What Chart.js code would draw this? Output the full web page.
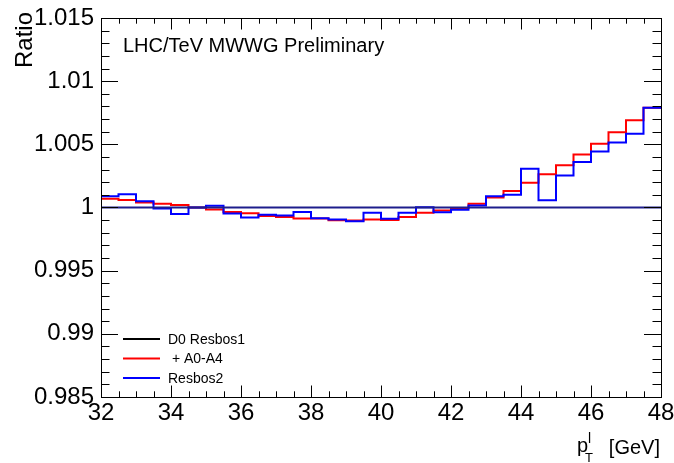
<!DOCTYPE html>
<html>
<head>
<meta charset="utf-8">
<script src="https://cdn.jsdelivr.net/npm/chart.js@4/dist/chart.umd.min.js"></script>
<style>
  html, body { margin: 0; padding: 0; background: #fff; }
  #wrap { width: 674px; height: 463px; }
</style>
</head>
<body>
<div id="wrap"><canvas id="ratioChart"></canvas></div>
<script>
// bin low edges (0.5 GeV bins), last entry closes the final bin
const binEdges = [32, 32.5, 33, 33.5, 34, 34.5, 35, 35.5, 36, 36.5, 37, 37.5, 38, 38.5, 39, 39.5,
                  40, 40.5, 41, 41.5, 42, 42.5, 43, 43.5, 44, 44.5, 45, 45.5, 46, 46.5, 47, 47.5, 48];

const refRatio = [1, 1];   // D0 Resbos1 / itself, at 32 and 48

const a0a4Ratio = [1.0007, 1.0006, 1.0004, 1.0003, 1.0002, 1.0000, 0.99984, 0.99965,
                   0.99955, 0.99932, 0.99925, 0.99912, 0.99912, 0.99900, 0.99897, 0.99905,
                   0.99902, 0.99925, 0.99958, 0.99976, 0.99996, 1.0003, 1.0008, 1.0013,
                   1.00195, 1.00264, 1.00335, 1.0042, 1.00505, 1.00596, 1.0069, 1.0079];

const resbos2Ratio = [1.0009, 1.00105, 1.0005, 0.99992, 0.99948, 1.0000, 1.00013, 0.99952,
                      0.9992, 0.99942, 0.99937, 0.99965, 0.99915, 0.99905, 0.99892, 0.99958,
                      0.9991, 0.99958, 1.00002, 0.99963, 0.99982, 1.00016, 1.0009, 1.001,
                      1.00306, 1.00058, 1.00253, 1.00361, 1.00443, 1.00515, 1.00583, 1.0079];

const seriesLabels = ['D0 Resbos1', ' + A0-A4', 'Resbos2'];
const legendColors = ['#000000', '#ff0000', '#0000ff'];

const toSteps = (vals) => {
    const pts = vals.map((v, i) => ({ x: binEdges[i], y: v }));
    pts.push({ x: binEdges[binEdges.length - 1], y: vals[vals.length - 1] });
    return pts;
};

const FONT = '"Liberation Sans", Arial, sans-serif';

const isMajorY = (v) => Math.round(v * 1000) % 5 === 0;
const isMajorX = (v) => Math.abs(v / 2 - Math.round(v / 2)) < 1e-6;

// ROOT style frame, inward ticks, legend, axis titles
const rootStyle = {
    id: 'rootStyle',
    afterDraw(chart) {
        const ctx = chart.ctx;
        const { left, right, top, bottom } = chart.chartArea;
        const xs = chart.scales.x, ys = chart.scales.y;
        ctx.save();
        ctx.strokeStyle = '#000';
        ctx.lineWidth = 1;
        ctx.strokeRect(Math.round(left) + 0.5, Math.round(top) + 0.5,
                       Math.round(right - left), Math.round(bottom - top));
        ctx.beginPath();
        ys.ticks.forEach((t) => {
            const y = Math.round(ys.getPixelForValue(t.value)) + 0.5;
            const len = isMajorY(t.value) ? 17 : 8.5;
            ctx.moveTo(left, y); ctx.lineTo(left + len, y);
            ctx.moveTo(right, y); ctx.lineTo(right - len, y);
        });
        xs.ticks.forEach((t) => {
            const x = Math.round(xs.getPixelForValue(t.value)) + 0.5;
            const len = isMajorX(t.value) ? 11.5 : 5.7;
            ctx.moveTo(x, bottom); ctx.lineTo(x, bottom - len);
            ctx.moveTo(x, top); ctx.lineTo(x, top + len);
        });
        ctx.stroke();

        // legend
        ctx.font = '14px ' + FONT;
        ctx.textBaseline = 'middle';
        ctx.textAlign = 'left';
        const legY = [339, 358.5, 378];
        seriesLabels.forEach((lab, i) => {
            ctx.strokeStyle = legendColors[i];
            ctx.lineWidth = 2;
            ctx.beginPath();
            ctx.moveTo(123, legY[i]); ctx.lineTo(160, legY[i]);
            ctx.stroke();
            ctx.fillStyle = '#000';
            ctx.fillText(lab, 168, legY[i] + 1);
        });

        // text label
        ctx.font = '20px ' + FONT;
        ctx.textBaseline = 'alphabetic';
        ctx.fillText('LHC/TeV MWWG Preliminary', 123, 52);

        // y title
        ctx.save();
        ctx.translate(32, 12);
        ctx.rotate(-Math.PI / 2);
        ctx.font = '24px ' + FONT;
        ctx.textAlign = 'right';
        ctx.fillText('Ratio', 0, 0);
        ctx.restore();

        // x title p_T^l [GeV]
        ctx.font = '20px ' + FONT;
        ctx.textAlign = 'right';
        ctx.fillText('[GeV]', 660, 454);
        ctx.textAlign = 'left';
        ctx.fillText('p', 577, 452);
        ctx.font = '14px ' + FONT;
        ctx.fillText('l', 588, 443);
        ctx.font = '13px ' + FONT;
        ctx.fillText('T', 585, 462);
        ctx.restore();
    }
};

new Chart(document.getElementById('ratioChart'), {
    type: 'line',
    data: {
        datasets: [{
            label: seriesLabels[0],
            data: binEdges.filter((e, i) => i === 0 || i === binEdges.length - 1).map((e, i) => ({ x: e, y: refRatio[i] })),
            borderColor: '#1e1e8c',
            borderWidth: 2,
            pointRadius: 0,
            order: 0
        }, {
            label: seriesLabels[1],
            data: toSteps(a0a4Ratio),
            borderColor: '#ff0000',
            borderWidth: 2,
            pointRadius: 0,
            stepped: 'before',
            order: 2
        }, {
            label: seriesLabels[2],
            data: toSteps(resbos2Ratio),
            borderColor: '#0000ff',
            borderWidth: 2,
            pointRadius: 0,
            stepped: 'before',
            order: 1
        }]
    },
    options: {
        responsive: true,
        maintainAspectRatio: false,
        animation: false,
        layout: { padding: { top: 18, right: 13, left: 0, bottom: 0 } },
        plugins: {
            legend: { display: false },
            tooltip: { enabled: false }
        },
        scales: {
            x: {
                type: 'linear',
                min: 32,
                max: 48,
                grid: { display: false, drawTicks: false },
                border: { display: false },
                afterFit: (s) => { s.height = 66; s.paddingLeft = 0; s.paddingRight = 0; },
                ticks: {
                    stepSize: 0.5,
                    autoSkip: false,
                    maxRotation: 0,
                    minRotation: 0,
                    padding: 2,
                    color: '#000',
                    font: { family: FONT, size: 24 },
                    callback: (v) => isMajorX(v) ? String(Math.round(v)) : ''
                }
            },
            y: {
                type: 'linear',
                min: 0.985,
                max: 1.015,
                grid: { display: false, drawTicks: false },
                border: { display: false },
                afterFit: (s) => { s.width = 101; s.paddingTop = 0; s.paddingBottom = 0; },
                ticks: {
                    stepSize: 0.001,
                    autoSkip: false,
                    padding: 7,
                    color: '#000',
                    font: { family: FONT, size: 24 },
                    callback: (v) => isMajorY(v) ? String(parseFloat(v.toFixed(3))) : ''
                }
            }
        }
    },
    plugins: [rootStyle]
});
</script>
</body>
</html>
